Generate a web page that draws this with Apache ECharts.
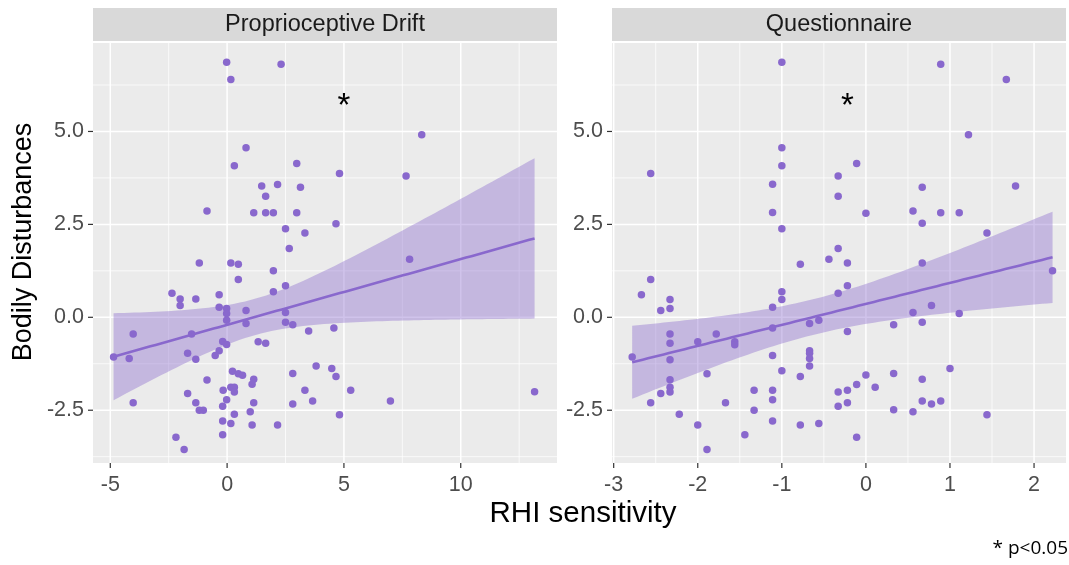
<!DOCTYPE html>
<html><head><meta charset="utf-8">
<script src="https://cdn.jsdelivr.net/npm/echarts@6/dist/echarts.min.js"></script>
<style>html,body{margin:0;padding:0;background:#fff}#c{width:1069px;height:565px}</style>
</head><body><div id="c"></div>
<script>
// ---------------- data ----------------
const panelTitles = ['Proprioceptive Drift', 'Questionnaire'];
const xAxisTitle = 'RHI sensitivity';
const yAxisTitle = 'Bodily Disturbances';
const footnote = '* p<0.05';

const driftX = [-0.02,2.31,0.16,0.81,0.31,2.98,4.81,1.48,2.16,3.14,1.65,-0.86,1.14,1.65,1.98,2.98,4.66,2.50,3.33,2.66,-1.19,0.16,0.48,1.98,8.33,7.66,7.81,0.48,-2.36,-2.01,-1.34,-2.01,-0.34,2.50,1.98,-0.34,-0.02,-0.02,0.81,-0.02,0.81,2.50,2.50,2.81,3.49,4.57,-4.02,-1.52,-0.19,-0.02,1.33,1.65,-4.86,-4.19,-1.69,-1.34,-0.34,-0.51,0.23,0.48,0.66,1.14,1.07,-0.86,2.81,3.81,4.48,4.66,-0.17,0.16,0.31,0.31,-1.69,3.33,5.29,-0.02,-1.34,-4.02,1.14,2.81,3.66,-1.19,-1.02,-0.19,0.31,0.99,4.81,-0.19,0.16,1.07,2.16,-0.19,-2.19,-1.84,6.99,13.16];
const driftY = [6.86,6.81,6.40,4.56,4.08,4.14,3.87,3.53,3.57,3.50,3.26,2.86,2.81,2.81,2.81,2.81,2.52,2.38,2.27,1.85,1.46,1.46,1.43,1.25,4.91,3.80,1.56,1.02,0.65,0.49,0.49,0.32,0.61,0.85,0.69,0.27,0.24,0.10,0.18,-0.08,-0.17,0.13,-0.13,-0.20,-0.37,-0.29,-0.45,-0.45,-0.65,-0.73,-0.66,-0.70,-1.07,-1.11,-0.97,-1.13,-0.90,-1.03,-1.45,-1.52,-1.56,-1.67,-1.80,-1.69,-1.51,-1.31,-1.38,-1.59,-1.96,-1.88,-1.88,-2.01,-2.05,-1.96,-1.96,-2.22,-2.30,-2.30,-2.30,-2.33,-2.25,-2.50,-2.50,-2.39,-2.61,-2.54,-2.62,-2.79,-2.86,-2.90,-2.90,-3.16,-3.23,-3.56,-2.25,-2.00];

const questX = [-1.00,-1.00,-1.00,-2.56,-1.11,-0.33,-0.33,-1.11,-1.00,-0.33,-0.78,-0.44,-0.22,0.89,1.67,1.22,-0.11,0.67,1.78,0.00,0.56,0.89,1.11,0.67,1.44,0.67,2.22,-2.56,-2.67,-2.33,-2.44,-2.33,-1.00,-1.00,-1.11,-0.33,-0.22,-0.22,-1.11,-0.67,-0.56,-2.78,-2.33,-2.33,-2.33,-2.00,-1.78,-1.56,-1.56,-1.89,-1.11,-1.00,-0.78,-0.67,-0.67,-0.67,-0.67,-2.33,-2.33,-2.33,-2.44,-2.56,-2.22,-2.00,-1.89,-1.67,-1.44,-1.33,-1.33,-1.11,-1.11,-1.11,-0.78,-0.56,-0.33,-0.22,-0.33,-0.22,0.78,0.56,0.67,0.33,1.11,1.00,0.00,0.33,0.67,0.11,-0.11,0.33,0.56,0.67,0.78,0.89,1.44,-0.11];
const questY = [6.86,4.56,4.08,3.87,3.58,3.80,3.26,2.82,2.38,1.85,1.43,1.56,1.46,6.81,6.40,4.91,4.14,3.50,3.53,2.80,2.86,2.81,2.81,2.53,2.27,1.46,1.25,1.02,0.61,0.48,0.18,0.24,0.69,0.48,0.27,0.65,0.85,-0.38,-0.29,-0.17,-0.08,-1.07,-0.45,-0.70,-1.14,-0.66,-0.45,-0.66,-0.74,-1.52,-1.03,-1.44,-1.59,-0.90,-0.97,-1.11,-1.31,-1.68,-1.88,-2.01,-2.05,-2.30,-2.61,-2.90,-3.56,-2.30,-3.16,-1.96,-2.50,-1.96,-2.22,-2.79,-2.90,-2.86,-2.01,-1.96,-2.39,-2.30,0.32,0.13,-0.13,-0.20,0.10,-1.38,-1.55,-1.51,-1.67,-1.88,-1.81,-2.49,-2.54,-2.25,-2.33,-2.25,-2.62,-3.23];

const yTicks = [-2.5, 0, 2.5, 5];
const yMinor = [-3.75, -1.25, 1.25, 3.75, 6.25];
const driftXTicks = [-5, 0, 5, 10];
const driftXMinor = [-2.5, 2.5, 7.5, 12.5];
const questXTicks = [-3, -2, -1, 0, 1, 2];
const questXMinor = [-2.5, -1.5, -0.5, 0.5, 1.5];
const annotations = [[5, 5.66, '*'], [-0.22, 5.66, '*']];

// ---------------- style / layout ----------------
const PURPLE = '#8968CD';
const BAND = 'rgba(137,104,205,0.4)';
const FONT = '"Liberation Sans", Arial, sans-serif';
const yRange = [-3.92, 7.38];
const xRanges = [[-5.74, 14.12], [-3.02, 2.38]];

// linear fit with 95% CI (like geom_smooth(method = "lm"))
function lmBand(xs, ys) {
  const n = Math.min(xs.length, ys.length);
  let mx = 0, my = 0;
  for (let i = 0; i < n; i++) { mx += xs[i]; my += ys[i]; }
  mx /= n; my /= n;
  let sxx = 0, sxy = 0;
  for (let i = 0; i < n; i++) { sxx += (xs[i]-mx)**2; sxy += (xs[i]-mx)*(ys[i]-my); }
  const b = sxy / sxx, a = my - b * mx;
  let sse = 0;
  for (let i = 0; i < n; i++) sse += (ys[i] - a - b*xs[i])**2;
  const s = Math.sqrt(sse / (n - 2));
  const t = 1.9855;
  const lo = Math.min(...xs.slice(0,n)), hi = Math.max(...xs.slice(0,n));
  const rows = [];
  for (let k = 0; k <= 80; k++) {
    const x = lo + (hi - lo) * k / 80;
    const f = a + b * x;
    const se = s * Math.sqrt(1/n + (x-mx)**2 / sxx);
    rows.push([x, f, f - t*se, f + t*se]);
  }
  return rows;
}

function decor(i, xMajor, xMinor) {
  const rows = [];
  xMinor.forEach(v => rows.push([v, 0, 0]));
  xMajor.forEach(v => rows.push([v, 0, 1]));
  yMinor.forEach(v => rows.push([0, v, 2]));
  yTicks.forEach(v => rows.push([0, v, 3]));
  rows.push([0, 0, 4]);
  return {
    type: 'custom', xAxisIndex: i, yAxisIndex: i, z: 1, silent: true, clip: false,
    data: rows,
    renderItem: function (params, api) {
      const cs = params.coordSys;
      const kind = api.value(2);
      const bottom = cs.y + cs.height, right = cs.x + cs.width;
      if (kind === 0 || kind === 1) {
        const v = api.value(0);
        const px = api.coord([v, 0])[0];
        const ch = [{ type: 'line', shape: { x1: px, y1: cs.y, x2: px, y2: bottom },
          style: { stroke: '#fff', lineWidth: kind ? 1.5 : 0.75 } }];
        if (kind === 1) {
          ch.push({ type: 'line', shape: { x1: px, y1: bottom, x2: px, y2: bottom + 5 }, style: { stroke: '#333', lineWidth: 1.2 } });
          ch.push({ type: 'text', style: { x: px, y: bottom + 22, text: String(v), fill: '#4D4D4D',
            font: '21.5px ' + FONT, textAlign: 'center', textVerticalAlign: 'middle' } });
        }
        return { type: 'group', children: ch };
      }
      if (kind === 2 || kind === 3) {
        const v = api.value(1);
        const py = api.coord([0, v])[1];
        const ch = [{ type: 'line', shape: { x1: cs.x, y1: py, x2: right, y2: py },
          style: { stroke: '#fff', lineWidth: kind === 3 ? 1.5 : 0.75 } }];
        if (kind === 3) {
          ch.push({ type: 'line', shape: { x1: cs.x - 5, y1: py, x2: cs.x, y2: py }, style: { stroke: '#333', lineWidth: 1.2 } });
          ch.push({ type: 'text', style: { x: cs.x - 9, y: py, text: v.toFixed(1), fill: '#4D4D4D',
            font: '21.5px ' + FONT, textAlign: 'right', textVerticalAlign: 'middle' } });
        }
        return { type: 'group', children: ch };
      }
      // strip
      return { type: 'group', children: [
        { type: 'rect', shape: { x: cs.x, y: cs.y - 35, width: cs.width, height: 33 }, style: { fill: '#D9D9D9' } },
        { type: 'text', style: { x: cs.x + cs.width / 2, y: cs.y - 18, text: panelTitles[i], fill: '#1A1A1A',
          font: '23.5px ' + FONT, textAlign: 'center', textVerticalAlign: 'middle' } }
      ] };
    }
  };
}

function bandSeries(i, rows) {
  return {
    type: 'custom', xAxisIndex: i, yAxisIndex: i, z: 2, silent: true,
    data: rows.map(r => [r[0], r[1]]),
    renderItem: function (params, api) {
      if (params.dataIndex !== 0) return null;
      const upper = rows.map(r => api.coord([r[0], r[3]]));
      const lower = rows.map(r => api.coord([r[0], r[2]])).reverse();
      return { type: 'polygon', shape: { points: upper.concat(lower) }, style: { fill: BAND } };
    }
  };
}

function annotSeries(i) {
  return {
    type: 'custom', xAxisIndex: i, yAxisIndex: i, z: 6, silent: true,
    data: [annotations[i]],
    renderItem: function (params, api) {
      const p = api.coord([api.value(0), api.value(1)]);
      return { type: 'text', style: { x: p[0], y: p[1], text: annotations[i][2], fill: '#000',
        font: '33px ' + FONT, textAlign: 'center', textVerticalAlign: 'middle' } };
    }
  };
}

const sets = [[driftX, driftY], [questX, questY]];
const series = [];
sets.forEach(([xs, ys], i) => {
  const rows = lmBand(xs, ys);
  series.push(decor(i, i ? questXTicks : driftXTicks, i ? questXMinor : driftXMinor));
  series.push({
    type: 'scatter', xAxisIndex: i, yAxisIndex: i, z: 3, symbolSize: 7.5,
    itemStyle: { color: PURPLE, opacity: 1 },
    data: xs.map((x, k) => [x, ys[k]])
  });
  series.push(bandSeries(i, rows));
  series.push({
    type: 'line', xAxisIndex: i, yAxisIndex: i, z: 5, symbol: 'none', silent: true,
    lineStyle: { color: PURPLE, width: 2.6 },
    data: rows.map(r => [r[0], r[1]])
  });
  series.push(annotSeries(i));
});

const hiddenAxis = { show: false, splitLine: { show: false }, axisLine: { show: false }, axisTick: { show: false }, axisLabel: { show: false } };
const chart = echarts.init(document.getElementById('c'), null, { renderer: 'canvas' });
chart.setOption({
  animation: false,
  backgroundColor: '#fff',
  grid: [
    { left: 93, top: 43, width: 464, height: 420, show: true, backgroundColor: '#EBEBEB', borderWidth: 0 },
    { left: 612, top: 43, width: 454, height: 420, show: true, backgroundColor: '#EBEBEB', borderWidth: 0 }
  ],
  xAxis: [0, 1].map(i => Object.assign({ type: 'value', gridIndex: i, min: xRanges[i][0], max: xRanges[i][1] }, hiddenAxis)),
  yAxis: [0, 1].map(i => Object.assign({ type: 'value', gridIndex: i, min: yRange[0], max: yRange[1] }, hiddenAxis)),
  graphic: [
    { type: 'text', position: [583, 514], style: { x: 0, y: 0, text: xAxisTitle, fill: '#000', font: '29.5px ' + FONT, textAlign: 'center', textVerticalAlign: 'middle' } },
    { type: 'text', rotation: Math.PI / 2, position: [24, 242], style: { x: 0, y: 0, text: yAxisTitle, fill: '#000', font: '27px ' + FONT, textAlign: 'center', textVerticalAlign: 'middle' } },
    { type: 'text', position: [1068, 549], style: { x: 0, y: 0, text: footnote, fill: '#000', font: '19px "Open Sans", sans-serif', textAlign: 'right', textVerticalAlign: 'middle' } }
  ],
  series: series
});
</script>
</body></html>
